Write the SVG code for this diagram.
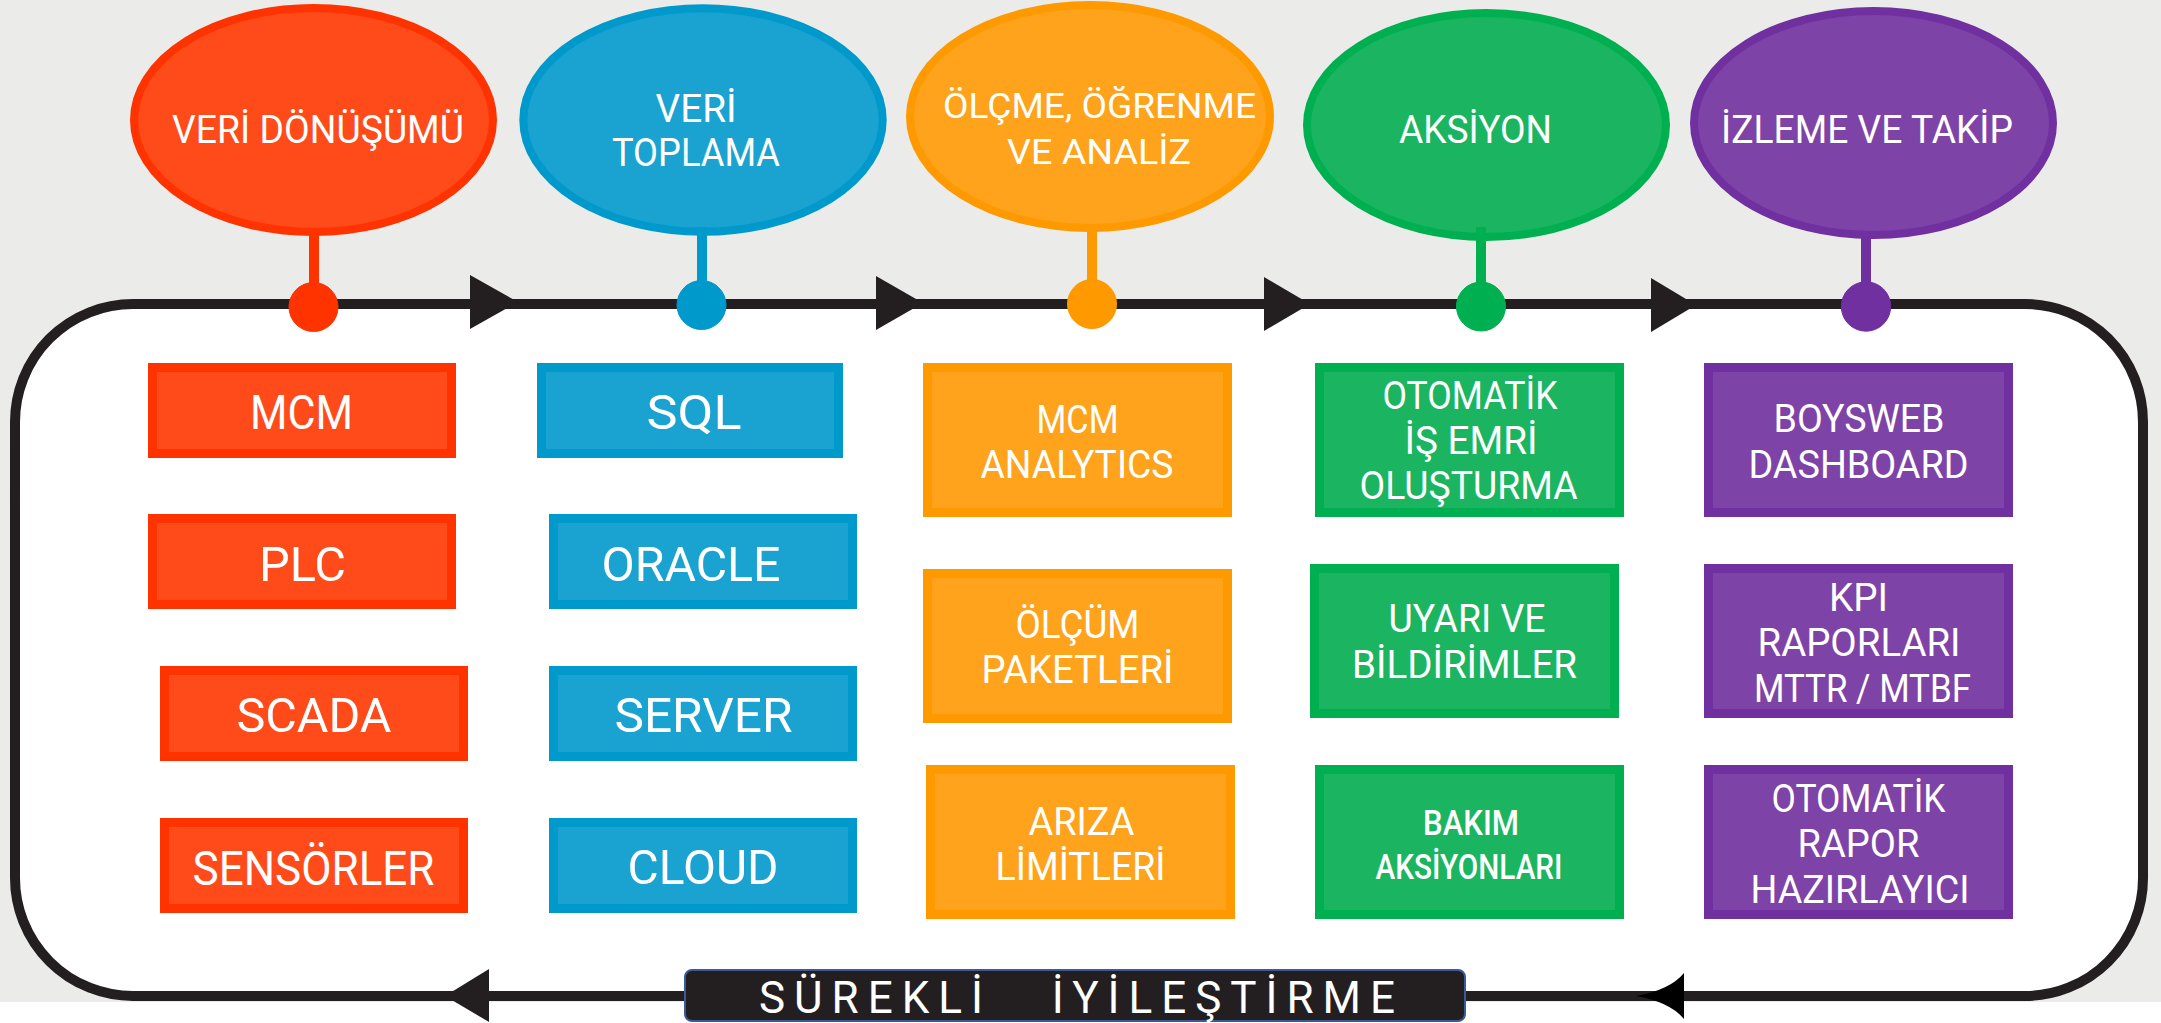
<svg xmlns="http://www.w3.org/2000/svg" width="2161" height="1023" viewBox="0 0 2161 1023">
<defs>
<style>
.t{font-family:Roboto,'DejaVu Sans',sans-serif;fill:#fff;font-weight:400}
.s49{font-size:49px}
.s38{font-size:38px}
.s35{font-size:35px}
.narrow{font-family:Roboto,'DejaVu Sans',sans-serif;font-size:35px;font-weight:500;fill:#fff}
.red .f{fill:#ff4a1a;stroke:#ff3300}
.blue .f{fill:#1aa3d1;stroke:#0099cc}
.orange .f{fill:#fea31b;stroke:#ff9900}
.green .f{fill:#1bb562;stroke:#00b050}
.purple .f{fill:#7e43a7;stroke:#7030a0}
.f{stroke-width:9}
.el{stroke-width:8}
.red .k{fill:#ff3300;stroke:#ff3300}
.blue .k{fill:#0099cc;stroke:#0099cc}
.orange .k{fill:#ff9900;stroke:#ff9900}
.green .k{fill:#00b050;stroke:#00b050}
.purple .k{fill:#7030a0;stroke:#7030a0}
.stem{stroke-width:10;fill:none}
.arr{fill:#231f20}
</style>
</defs>
<rect x="0" y="0" width="2161" height="1023" fill="#ffffff"/>
<rect x="0" y="0" width="2161" height="1002" fill="#ebebe9"/>

<g id="connectors">
<rect x="15" y="304" width="2128" height="692" rx="118" ry="118" fill="#ffffff" stroke="#231f20" stroke-width="10"/>
<path class="arr" d="M470,275 L518,302 L470,329 Z"/>
<path class="arr" d="M876,276 L923,303 L876,330 Z"/>
<path class="arr" d="M1264,277 L1310,304 L1264,331 Z"/>
<path class="arr" d="M1651,278 L1696,305 L1651,332 Z"/>
<path class="arr" d="M489,969 L445,996 L489,1022 Z"/>
<path d="M1684,973 Q1670,990 1636,996 Q1670,1002 1684,1019 Z" fill="#000"/>
</g>

<g id="step-veri-donusumu" class="red">
<ellipse class="f el" cx="313.5" cy="120" rx="179.5" ry="112"/>
<line class="k stem" x1="314" y1="230" x2="314" y2="290"/>
<circle class="k" cx="313.5" cy="307" r="24.5" stroke="none"/>
<text class="t s38" x="172" y="143" textLength="292" lengthAdjust="spacingAndGlyphs" font-size="39">VERİ DÖNÜŞÜMÜ</text>
</g>
<g id="step-veri-toplama" class="blue">
<ellipse class="f el" cx="703" cy="120" rx="179.7" ry="111.8"/>
<line class="k stem" x1="702" y1="227" x2="702" y2="290"/>
<circle class="k" cx="701.5" cy="305" r="24.5" stroke="none"/>
<text class="t s38" x="655.5" y="121.7" textLength="81" lengthAdjust="spacingAndGlyphs">VERİ</text>
<text class="t s38" x="612" y="166" textLength="168" lengthAdjust="spacingAndGlyphs">TOPLAMA</text>
</g>
<g id="step-olcme" class="orange">
<ellipse class="f el" cx="1090" cy="116.5" rx="180" ry="111.5"/>
<line class="k stem" x1="1092" y1="226" x2="1092" y2="290"/>
<circle class="k" cx="1092" cy="304" r="24.5" stroke="none"/>
<text class="t s35" x="943" y="118.3" textLength="313" lengthAdjust="spacingAndGlyphs">ÖLÇME, ÖĞRENME</text>
<text class="t s35" x="1007" y="164" textLength="184" lengthAdjust="spacingAndGlyphs">VE ANALİZ</text>
</g>
<g id="step-aksiyon" class="green">
<ellipse class="f el" cx="1486.5" cy="125" rx="179.5" ry="112"/>
<line class="k stem" x1="1481" y1="227" x2="1481" y2="290"/>
<circle class="k" cx="1481" cy="306.5" r="24.5" stroke="none"/>
<text class="t s38" x="1399" y="143.3" textLength="153" lengthAdjust="spacingAndGlyphs">AKSİYON</text>
</g>
<g id="step-izleme" class="purple">
<ellipse class="f el" cx="1873.5" cy="123" rx="179.5" ry="112"/>
<line class="k stem" x1="1866" y1="233" x2="1866" y2="290"/>
<circle class="k" cx="1866" cy="306.5" r="24.7" stroke="none"/>
<text class="t s38" x="1721" y="143.3" textLength="292" lengthAdjust="spacingAndGlyphs">İZLEME VE TAKİP</text>
</g>

<g id="box-mcm" class="red">
<rect class="f" x="152.5" y="367.5" width="299" height="86"/>
<text class="t s49" x="250" y="429" textLength="103" lengthAdjust="spacingAndGlyphs">MCM</text>
</g>
<g id="box-plc" class="red">
<rect class="f" x="152.5" y="518.5" width="299" height="86"/>
<text class="t s49" x="259" y="581" textLength="87" lengthAdjust="spacingAndGlyphs">PLC</text>
</g>
<g id="box-scada" class="red">
<rect class="f" x="164.5" y="670.5" width="299" height="86"/>
<text class="t s49" x="236.5" y="732" textLength="155" lengthAdjust="spacingAndGlyphs">SCADA</text>
</g>
<g id="box-sensorler" class="red">
<rect class="f" x="164.5" y="822.5" width="299" height="86"/>
<text class="t s49" x="192.5" y="884.5" textLength="242" lengthAdjust="spacingAndGlyphs">SENSÖRLER</text>
</g>

<g id="box-sql" class="blue">
<rect class="f" x="541.5" y="367.5" width="297" height="86"/>
<text class="t s49" x="646.5" y="429" textLength="95" lengthAdjust="spacingAndGlyphs">SQL</text>
</g>
<g id="box-oracle" class="blue">
<rect class="f" x="553.5" y="518.5" width="299" height="86"/>
<text class="t s49" x="601.5" y="581" textLength="179" lengthAdjust="spacingAndGlyphs">ORACLE</text>
</g>
<g id="box-server" class="blue">
<rect class="f" x="553.5" y="670.5" width="299" height="86"/>
<text class="t s49" x="614.5" y="732" textLength="178" lengthAdjust="spacingAndGlyphs">SERVER</text>
</g>
<g id="box-cloud" class="blue">
<rect class="f" x="553.5" y="822.5" width="299" height="86"/>
<text class="t s49" x="627.5" y="884" textLength="151" lengthAdjust="spacingAndGlyphs">CLOUD</text>
</g>

<g id="box-mcm-analytics" class="orange">
<rect class="f" x="927.5" y="367.5" width="300" height="145"/>
<text class="t s38" x="1036.5" y="433" textLength="82" lengthAdjust="spacingAndGlyphs">MCM</text>
<text class="t s38" x="980.5" y="478.3" textLength="193" lengthAdjust="spacingAndGlyphs">ANALYTICS</text>
</g>
<g id="box-olcum" class="orange">
<rect class="f" x="927.5" y="573.5" width="300" height="145"/>
<text class="t s38" x="1015.5" y="638.3" textLength="124" lengthAdjust="spacingAndGlyphs">ÖLÇÜM</text>
<text class="t s38" x="981.5" y="683.3" textLength="192" lengthAdjust="spacingAndGlyphs">PAKETLERİ</text>
</g>
<g id="box-ariza" class="orange">
<rect class="f" x="930.5" y="769.5" width="300" height="145"/>
<text class="t s38" x="1028.5" y="835" textLength="106" lengthAdjust="spacingAndGlyphs">ARIZA</text>
<text class="t s38" x="995.5" y="880" textLength="170" lengthAdjust="spacingAndGlyphs">LİMİTLERİ</text>
</g>

<g id="box-is-emri" class="green">
<rect class="f" x="1319.5" y="367.5" width="300" height="145"/>
<text class="t s38" x="1382.5" y="409.3" textLength="175" lengthAdjust="spacingAndGlyphs">OTOMATİK</text>
<text class="t s38" x="1404.5" y="454.3" textLength="133" lengthAdjust="spacingAndGlyphs">İŞ EMRİ</text>
<text class="t s38" x="1359.5" y="499.3" textLength="218" lengthAdjust="spacingAndGlyphs">OLUŞTURMA</text>
</g>
<g id="box-uyari" class="green">
<rect class="f" x="1314.5" y="568.5" width="300" height="145"/>
<text class="t s38" x="1388.5" y="632.4" textLength="157" lengthAdjust="spacingAndGlyphs">UYARI VE</text>
<text class="t s38" x="1352" y="678" textLength="225" lengthAdjust="spacingAndGlyphs">BİLDİRİMLER</text>
</g>
<g id="box-bakim" class="green">
<rect class="f" x="1319.5" y="769.5" width="300" height="145"/>
<text class="narrow" x="1423" y="835" textLength="96" lengthAdjust="spacingAndGlyphs">BAKIM</text>
<text class="narrow" x="1375.5" y="879" textLength="187" lengthAdjust="spacingAndGlyphs">AKSİYONLARI</text>
</g>

<g id="box-boysweb" class="purple">
<rect class="f" x="1708.5" y="367.5" width="300" height="145"/>
<text class="t s38" x="1773.5" y="432.3" textLength="171" lengthAdjust="spacingAndGlyphs">BOYSWEB</text>
<text class="t s38" x="1748.5" y="478.3" textLength="220" lengthAdjust="spacingAndGlyphs">DASHBOARD</text>
</g>
<g id="box-kpi" class="purple">
<rect class="f" x="1708.5" y="568.5" width="300" height="145"/>
<text class="t s38" x="1829" y="611" textLength="59" lengthAdjust="spacingAndGlyphs">KPI</text>
<text class="t s38" x="1757.5" y="656" textLength="203" lengthAdjust="spacingAndGlyphs">RAPORLARI</text>
<text class="t s38" x="1754" y="701.5" textLength="217" lengthAdjust="spacingAndGlyphs">MTTR / MTBF</text>
</g>
<g id="box-otomatik-rapor" class="purple">
<rect class="f" x="1708.5" y="769.5" width="300" height="145"/>
<text class="t s38" x="1771.5" y="811.7" textLength="174" lengthAdjust="spacingAndGlyphs">OTOMATİK</text>
<text class="t s38" x="1797.5" y="857.3" textLength="122" lengthAdjust="spacingAndGlyphs">RAPOR</text>
<text class="t s38" x="1750.5" y="903" textLength="219" lengthAdjust="spacingAndGlyphs">HAZIRLAYICI</text>
</g>

<g id="label-surekli">
<rect x="685" y="970" width="780" height="51" rx="7" ry="7" fill="#231f20" stroke="#3c5a96" stroke-width="2"/>
<text class="t" x="759" y="1013" font-size="44" word-spacing="40" textLength="636" lengthAdjust="spacing">SÜREKLİ İYİLEŞTİRME</text>
</g>
</svg>
